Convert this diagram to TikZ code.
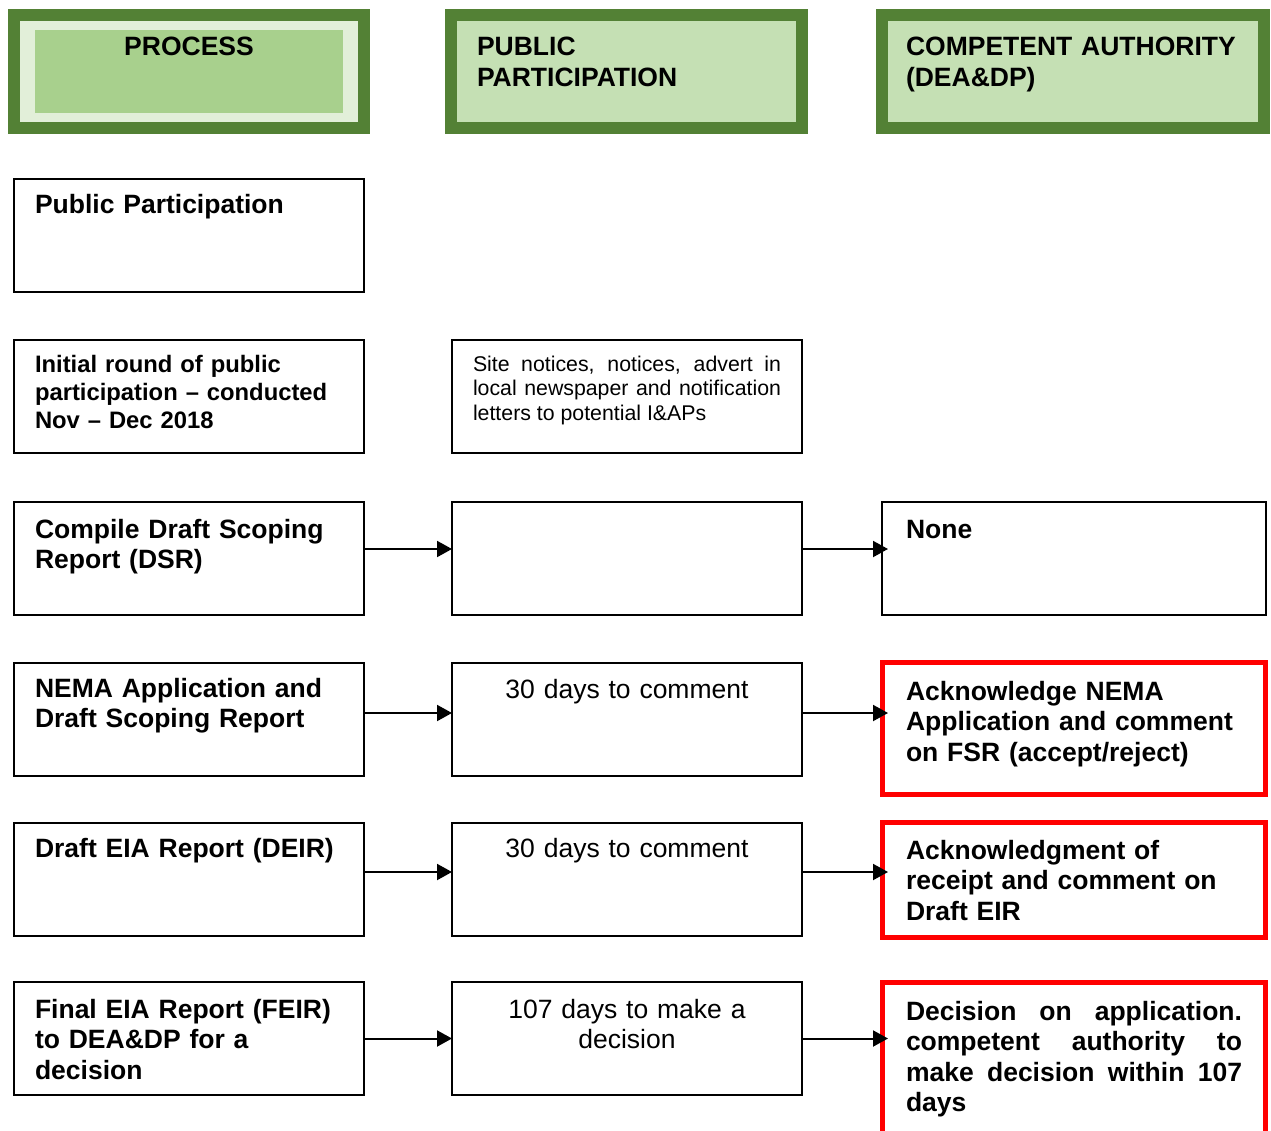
\documentclass[tikz,border=0pt]{standalone}
\usepackage{fontspec}
\setmainfont{Liberation Sans}
\usetikzlibrary{arrows.meta}
\definecolor{hdrdark}{HTML}{538135}
\definecolor{hdrmid}{HTML}{A8D08D}
\definecolor{hdrpale}{HTML}{E2EFD9}
\definecolor{hdrlight}{HTML}{C5E0B4}
\newcommand{\cellfont}{\fontsize{26.5pt}{30.5pt}\selectfont}

\begin{document}
\begin{tikzpicture}[x=1pt, y=-1pt,
  every node/.style={font=\cellfont, inner sep=0pt, outer sep=0pt, anchor=north west},
  hdrframe/.style={draw=hdrdark, line width=12pt, minimum height=113pt},
  hdrtext/.style={font=\fontsize{26.5pt}{31pt}\selectfont\bfseries, align=left,
                  inner xsep=26pt, text height=41pt, text depth=72pt},
  cell/.style={draw, line width=1.6pt, minimum width=350pt, minimum height=113pt,
               inner xsep=21pt, text width=308pt, text height=35pt, text depth=78pt},
  stepcell/.style={cell, align=left, font=\cellfont\bfseries},
  pubcell/.style={cell, align=center},
  alertcell/.style={draw=red, line width=5pt, minimum width=383pt, inner xsep=23.5pt,
                    text width=336pt, align=left, font=\cellfont\bfseries},
  arr/.style={-{Triangle[length=15pt,width=16pt]}, line width=2pt}]
\useasboundingbox (0,0) rectangle (1271,1131);

% column headers
\node[hdrframe, fill=hdrpale, minimum width=350pt] (hproc) at (14,15) {};
\node[fill=hdrmid, text width=308pt, align=center, text height=26pt, text depth=57pt,
      font=\fontsize{26.5pt}{31pt}\selectfont\bfseries] (hproctext) at (35,30) {PROCESS};
\node[hdrframe, hdrtext, fill=hdrlight, minimum width=351pt, text width=299pt] (hpub) at (451,15)
  {PUBLIC\\PARTICIPATION};
\node[hdrframe, hdrtext, fill=hdrlight, minimum width=382pt, inner xsep=24pt, text width=334pt] (hca) at (882,15)
  {COMPETENT AUTHORITY\\(DEA\&DP)};

% process column
\node[stepcell] (c1r1) at (14,179) {Public Participation};
\node[stepcell, text height=33pt, text depth=80pt, font=\fontsize{23.8pt}{27.5pt}\selectfont\bfseries] (c1r2) at (14,340)
  {Initial round of public\\participation -- conducted\\Nov -- Dec 2018};
\node[stepcell, text height=36pt, text depth=77pt] (c1r3) at (14,502) {Compile Draft Scoping\\Report (DSR)};
\node[stepcell, text height=34pt, text depth=79pt] (c1r4) at (14,663) {NEMA Application and\\Draft Scoping Report};
\node[stepcell, text height=34pt, text depth=79pt] (c1r5) at (14,823) {Draft EIA Report (DEIR)};
\node[stepcell, text height=36pt, text depth=77pt] (c1r6) at (14,982) {Final EIA Report (FEIR)\\to DEA\&DP for a\\decision};

% public participation column
\node[cell, align=justify, text height=31pt, text depth=82pt, font=\fontsize{21.3pt}{24.5pt}\selectfont] (c2r2) at (452,340)
  {Site notices, notices, advert in\linebreak local newspaper and notification\linebreak letters to potential I\&APs};
\node[pubcell] (c2r3) at (452,502) {};
\node[pubcell] (c2r4) at (452,663) {30 days to comment};
\node[pubcell, text height=34pt, text depth=79pt] (c2r5) at (452,823) {30 days to comment};
\node[pubcell, text height=36pt, text depth=77pt] (c2r6) at (452,982) {107 days to make a\\decision};

% competent authority column
\node[stepcell, minimum width=384pt, inner xsep=24pt, text width=336pt, text height=36pt, text depth=77pt] (c3r3) at (882,502) {None};
\node[alertcell, text height=37.5pt, text depth=94.5pt] (c3r4) at (882.5,662.5)
  {Acknowledge NEMA\\Application and comment\\on FSR (accept/reject)};
\node[alertcell, text height=36.5pt, text depth=78.5pt] (c3r5) at (882.5,822.5)
  {Acknowledgment of\\receipt and comment on\\Draft EIR};
\node[alertcell, align=justify, text height=37.5pt, text depth=122.5pt] (c3r6) at (882.5,982.5)
  {Decision on application.\linebreak competent authority to\linebreak make decision within 107\linebreak days};

% flow
\draw[arr] ([yshift=9.5pt]c1r3.east) -- ([yshift=9.5pt]c2r3.west);
\draw[arr] ([yshift=6.5pt]c1r4.east) -- ([yshift=6.5pt]c2r4.west);
\draw[arr] ([yshift=7.5pt]c1r5.east) -- ([yshift=7.5pt]c2r5.west);
\draw[arr] (c1r6.east) -- (c2r6.west);
\draw[arr, shorten >=-6pt] ([yshift=9.5pt]c2r3.east) coordinate (a3) -- (a3 -| c3r3.west);
\draw[arr, shorten >=-5.5pt] ([yshift=6.5pt]c2r4.east) coordinate (a4) -- (a4 -| c3r4.west);
\draw[arr, shorten >=-5.5pt] ([yshift=7.5pt]c2r5.east) coordinate (a5) -- (a5 -| c3r5.west);
\draw[arr, shorten >=-5.5pt] (c2r6.east) coordinate (a6) -- (a6 -| c3r6.west);
\end{tikzpicture}
\end{document}
